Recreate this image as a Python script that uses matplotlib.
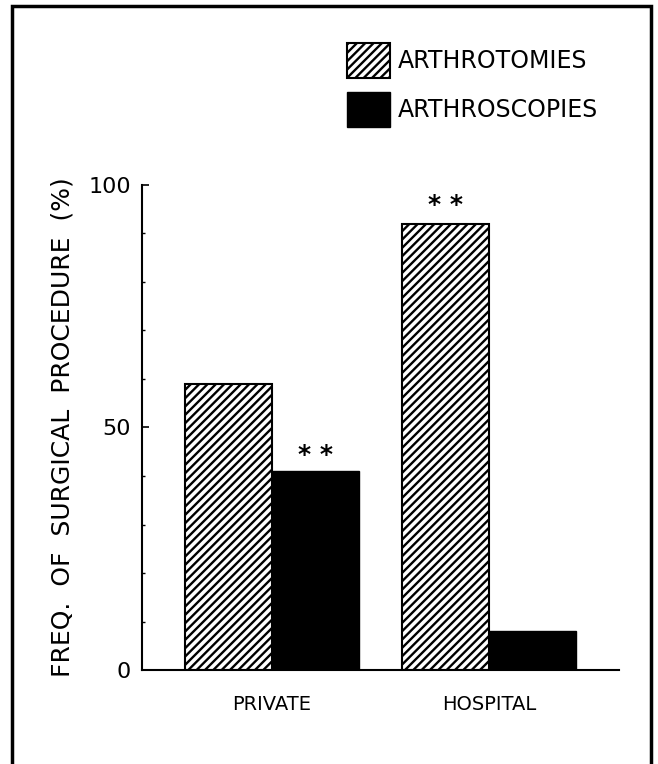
import numpy as np
import matplotlib
matplotlib.use('Agg')
import matplotlib.pyplot as plt
from matplotlib.patches import Rectangle

groups = ['PRIVATE', 'HOSPITAL']
arthrotomies = [59, 92]
arthroscopies = [41, 8]
sig_arthrotomies = ['', '* *']
sig_arthroscopies = ['* *', '']

plt.rcParams['hatch.linewidth'] = 1.7
plt.rcParams['font.family'] = 'DejaVu Sans'

fig = plt.figure(figsize=(6.58, 7.64), dpi=100)
ax = fig.add_axes([0.2158, 0.1230, 0.725, 0.6349])

x = np.array([0, 2.5])
ax.bar(x - 0.5, arthrotomies, width=1, color='white', edgecolor='black',
       hatch='////', linewidth=1.5, label='ARTHROTOMIES')
ax.bar(x + 0.5, arthroscopies, width=1, color='black', edgecolor='black',
       label='ARTHROSCOPIES')

# significance marks
for xi, v, s in zip(x - 0.5, arthrotomies, sig_arthrotomies):
    if s:
        ax.text(xi, v + 3.8, s, ha='center', va='center', fontsize=18,
                fontweight='bold')
for xi, v, s in zip(x + 0.5, arthroscopies, sig_arthroscopies):
    if s:
        ax.text(xi, v + 3.3, s, ha='center', va='center', fontsize=18,
                fontweight='bold')

ax.set_xlim(-1.5, 4.0)
ax.set_ylim(0, 100)
ax.set_yticks([0, 50, 100])
ax.set_yticks(np.arange(0, 101, 10), minor=True)
ax.tick_params(axis='y', which='major', direction='in', length=5, width=1.2,
               labelsize=16, pad=8)
ax.tick_params(axis='y', which='minor', direction='in', length=2.5, width=1)
ax.set_xticks(x)
ax.set_xticklabels(groups, fontsize=14)
ax.tick_params(axis='x', length=0, pad=18)

ax.spines['top'].set_visible(False)
ax.spines['right'].set_visible(False)
ax.spines['left'].set_linewidth(1.5)
ax.spines['bottom'].set_linewidth(1.5)

ax.set_ylabel('FREQ.  OF  SURGICAL  PROCEDURE  (%)', fontsize=18, labelpad=10)

ax.legend(loc='upper left', bbox_to_anchor=(347 / 658, 1 - 43 / 764),
          bbox_transform=fig.transFigure, frameon=False, fontsize=17,
          handlelength=1.8, handleheight=1.9, handletextpad=0.35,
          labelspacing=0.6, borderpad=0, borderaxespad=0)

# border around the figure
fig.add_artist(Rectangle((12 / 658, -0.05), (651 - 12) / 658, 1.05 - 6 / 764,
                         transform=fig.transFigure, fill=False, lw=2.5,
                         clip_on=False))

fig.savefig('out.png', dpi=100)
